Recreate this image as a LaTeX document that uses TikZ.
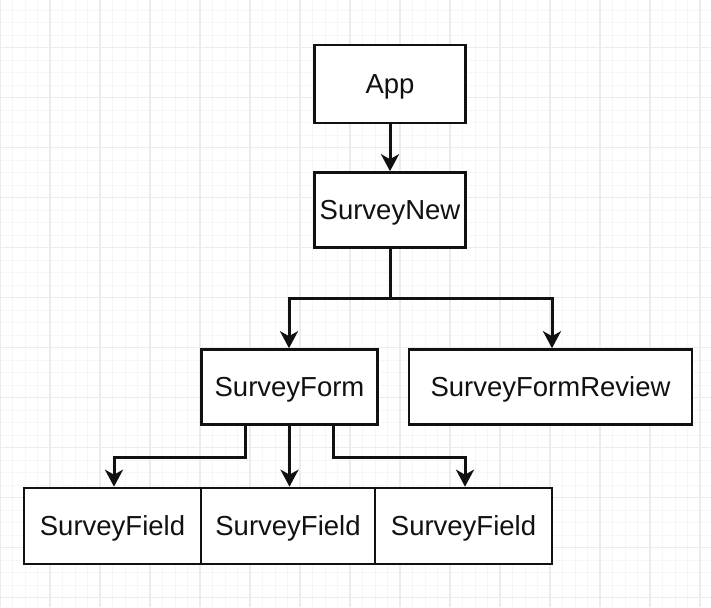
\documentclass[tikz,border=0pt]{standalone}
\usepackage{fontspec}
\setmainfont{Liberation Sans}
\usetikzlibrary{arrows.meta}
\definecolor{gridmin}{HTML}{F6F6F6}
\definecolor{gridmaj}{HTML}{ECECEC}
\definecolor{ink}{HTML}{111111}
\tikzset{
  box/.style={draw=ink, line width=2.6pt, fill=white, rectangle, inner sep=0pt,
    minimum height=75pt, text=ink, font=\fontsize{27.5}{33}\selectfont,
    text height=19.7pt, text depth=0pt},
  arr/.style={draw=ink, line width=3pt, -{Stealth[length=17pt,width=18pt,inset=5pt]}}
}
\begin{document}
\begin{tikzpicture}[x=1pt,y=-1pt]
\useasboundingbox (0,0) rectangle (711,607);
\fill[white] (0,0) rectangle (711,607);
% grid
\foreach \i in {0,...,57} {
  \draw[gridmin, line width=0.8pt] (\i*12.5,0) -- (\i*12.5,607);
}
\foreach \i in {0,...,49} {
  \draw[gridmin, line width=0.8pt] (0,\i*12.5-2.5) -- (711,\i*12.5-2.5);
}
\foreach \i in {0,...,14} {
  \draw[gridmaj, line width=1.2pt] (\i*50,0) -- (\i*50,607);
}
\foreach \i in {0,...,12} {
  \draw[gridmaj, line width=1.2pt] (0,\i*50-2.5) -- (711,\i*50-2.5);
}
% nodes
\node[box, minimum width=151pt, minimum height=78pt] (app) at (390,84) {App};
\node[box, minimum width=151pt] (new) at (390,210) {SurveyNew};
\node[box, minimum width=176pt] (form) at (289.5,387) {SurveyForm};
\node[box, minimum width=283pt] (review) at (550.5,387) {SurveyFormReview};
\node[box, minimum width=177pt, minimum height=76pt] (f1) at (112.5,526) {SurveyField};
\node[box, minimum width=174pt, minimum height=76pt] (f2) at (288,526) {SurveyField};
\node[box, minimum width=177pt, minimum height=76pt] (f3) at (463.5,526) {SurveyField};
% connectors
\draw[arr] (app.south) -- (new.north);
\draw[arr] (new.south) -- ++(0,50) -| ([xshift=-0.5pt]form.north);
\draw[arr] (new.south) -- ++(0,50) -| ([xshift=1.5pt]review.north);
\draw[arr] ([xshift=-44pt]form.south) -- ++(0,32) -| ([xshift=1.5pt]f1.north);
\draw[arr] (form.south) -- (form.south |- f2.north);
\draw[arr] ([xshift=44pt]form.south) -- ++(0,32) -| ([xshift=1.5pt]f3.north);
\end{tikzpicture}
\end{document}
